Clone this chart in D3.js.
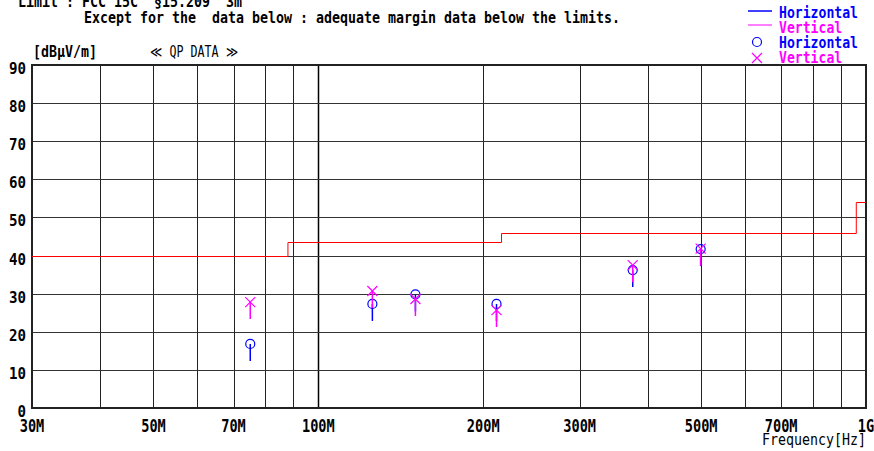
<!DOCTYPE html>
<html>
<head>
<meta charset="utf-8">
<script src="https://cdn.jsdelivr.net/npm/d3@7"></script>
<style>
  body { margin: 0; background: #fff; }
  text { font-family: "DejaVu Sans Mono", monospace; white-space: pre; }
</style>
</head>
<body>
<script>
// measured points (MHz, dBuV/m)
const freqs = [75.1, 125.5, 150.4, 211.5, 375, 499]
const levelH = [16.8, 27.3, 29.8, 27.3, 36.2, 41.7]
const levelV = [27.8, 30.7, 28.6, 25.7, 37.5, 41.8]

// FCC 15.209 limit steps
const limitEdges = [30, 88, 216, 960, 1000]
const limitLevels = [40, 43.5, 46, 54]

const xTickVals = [30, 50, 70, 100, 200, 300, 500, 700, 1000]
const xTickText = ['30M', '50M', '70M', '100M', '200M', '300M', '500M', '700M', '1G']
const xGrid = [40, 50, 60, 70, 80, 90, 100, 200, 300, 400, 500, 600, 700, 800, 900]
const yTickVals = [0, 10, 20, 30, 40, 50, 60, 70, 80, 90]

const m = { width: 874, height: 451, left: 32, right: 866, top: 65, bottom: 408 }

const svg = d3.select('body').append('svg')
    .attr('width', m.width)
    .attr('height', m.height)

const x = d3.scaleLog().domain([30, 1000]).range([m.left, m.right])
const y = d3.scaleLinear().domain([0, 90]).range([m.bottom, m.top])

// monospace-ish text squeezed to a fixed cell width
function mono(sel, str, cell) {
    return sel.text(str)
        .attr('textLength', str.length * cell)
        .attr('lengthAdjust', 'spacingAndGlyphs')
}

// header text
mono(svg.append('text').attr('x', 18).attr('y', 7)
    .attr('font-size', 16).attr('font-weight', 'bold'), 'Limit : FCC 15C  \u00a715.209  3m', 8)
mono(svg.append('text').attr('x', 84).attr('y', 23)
    .attr('font-size', 16).attr('font-weight', 'bold'),
    'Except for the  data below : adequate margin data below the limits.', 8)
mono(svg.append('text').attr('x', 33).attr('y', 57)
    .attr('font-size', 15).attr('font-weight', 'bold'), '[dB\u03bcV/m]', 8)
mono(svg.append('text').attr('x', 150).attr('y', 57)
    .attr('font-size', 15), '\u226a QP DATA \u226b', 8)

// grid
const g = svg.append('g')
g.selectAll('.vg')
    .data(xGrid)
    .enter()
    .append('line')
    .attr('x1', d => Math.round(x(d)) + 0.5)
    .attr('x2', d => Math.round(x(d)) + 0.5)
    .attr('y1', m.top)
    .attr('y2', m.bottom)
    .attr('stroke', d => d === 100 ? '#000' : '#222')
    .attr('stroke-width', d => d === 100 ? 1.5 : 1)

g.selectAll('.hg')
    .data(yTickVals.filter(d => d > 0 && d < 90))
    .enter()
    .append('line')
    .attr('x1', m.left)
    .attr('x2', m.right)
    .attr('y1', d => Math.round(y(d)) + 0.5)
    .attr('y2', d => Math.round(y(d)) + 0.5)
    .attr('stroke', '#333')

// frame
g.append('rect')
    .attr('x', m.left)
    .attr('y', m.top)
    .attr('width', m.right - m.left)
    .attr('height', m.bottom - m.top)
    .attr('fill', 'none')
    .attr('stroke', '#222')
    .attr('stroke-width', 2)

// tick labels
svg.selectAll('.yt')
    .data(yTickVals)
    .enter()
    .append('text')
    .attr('x', 26)
    .attr('y', d => y(d) + 9)
    .attr('text-anchor', 'end')
    .attr('font-size', 16)
    .attr('font-weight', 'bold')
    .each(function(d) { mono(d3.select(this), String(d), 8.5) })

svg.selectAll('.xt')
    .data(xTickVals)
    .enter()
    .append('text')
    .attr('x', d => x(d))
    .attr('y', 432)
    .attr('text-anchor', 'middle')
    .attr('font-size', 18)
    .attr('font-weight', 'bold')
    .each(function(d, i) { mono(d3.select(this), xTickText[i], 8.2) })

mono(svg.append('text').attr('x', 866).attr('y', 445)
    .attr('text-anchor', 'end').attr('font-size', 16), 'Frequency[Hz]', 8)

// limit line
const limitPts = limitEdges.map((f, i) => [f, limitLevels[Math.min(i, limitLevels.length - 1)]])
svg.append('path')
    .datum(limitPts)
    .attr('fill', 'none')
    .attr('stroke', '#ff0000')
    .attr('stroke-width', 1)
    .attr('d', d3.line()
        .x(d => x(d[0]))
        .y(d => Math.round(y(d[1])) + 0.5)
        .curve(d3.curveStepAfter))

const stemLen = 17
const blue = '#0000ff'
const mag = '#ff00ff'

// horizontal
const hp = svg.append('g')
hp.selectAll('line')
    .data(freqs)
    .enter()
    .append('line')
    .attr('x1', d => x(d)).attr('x2', d => x(d))
    .attr('y1', (d, i) => y(levelH[i]))
    .attr('y2', (d, i) => y(levelH[i]) + stemLen)
    .attr('stroke', blue).attr('stroke-width', 1.5)
hp.selectAll('circle')
    .data(freqs)
    .enter()
    .append('circle')
    .attr('cx', d => x(d))
    .attr('cy', (d, i) => y(levelH[i]))
    .attr('r', 4.5)
    .attr('fill', 'none')
    .attr('stroke', blue)
    .attr('stroke-width', 1.2)

// vertical
const vp = svg.append('g')
vp.selectAll('line')
    .data(freqs)
    .enter()
    .append('line')
    .attr('x1', d => x(d)).attr('x2', d => x(d))
    .attr('y1', (d, i) => y(levelV[i]))
    .attr('y2', (d, i) => y(levelV[i]) + stemLen)
    .attr('stroke', mag).attr('stroke-width', 1.5)
vp.selectAll('path')
    .data(freqs)
    .enter()
    .append('path')
    .attr('transform', (d, i) => 'translate(' + x(d) + ',' + y(levelV[i]) + ')')
    .attr('d', 'M-5,-5L5,5M-5,5L5,-5')
    .attr('stroke', mag)
    .attr('stroke-width', 1.2)

// legend
const lg = svg.append('g')
lg.append('line').attr('x1', 748).attr('x2', 772).attr('y1', 11).attr('y2', 11)
    .attr('stroke', blue).attr('stroke-width', 1.5)
lg.append('line').attr('x1', 748).attr('x2', 772).attr('y1', 25).attr('y2', 25)
    .attr('stroke', '#ff55ff').attr('stroke-width', 1.5)
lg.append('circle').attr('cx', 757).attr('cy', 42).attr('r', 4.5)
    .attr('fill', 'none').attr('stroke', blue).attr('stroke-width', 1.2)
lg.append('path').attr('transform', 'translate(757,58)')
    .attr('d', 'M-5,-5L5,5M-5,5L5,-5').attr('stroke', mag).attr('stroke-width', 1.2)
const legendText = ['Horizontal', 'Vertical', 'Horizontal', 'Vertical']
const legendColor = [blue, mag, blue, mag]
lg.selectAll('text')
    .data(legendText)
    .enter()
    .append('text')
    .attr('x', 779)
    .attr('y', (d, i) => 18 + i * 15)
    .attr('font-size', 16)
    .attr('font-weight', 'bold')
    .attr('fill', (d, i) => legendColor[i])
    .each(function(d) { mono(d3.select(this), d, 7.9) })
</script>
</body>
</html>
